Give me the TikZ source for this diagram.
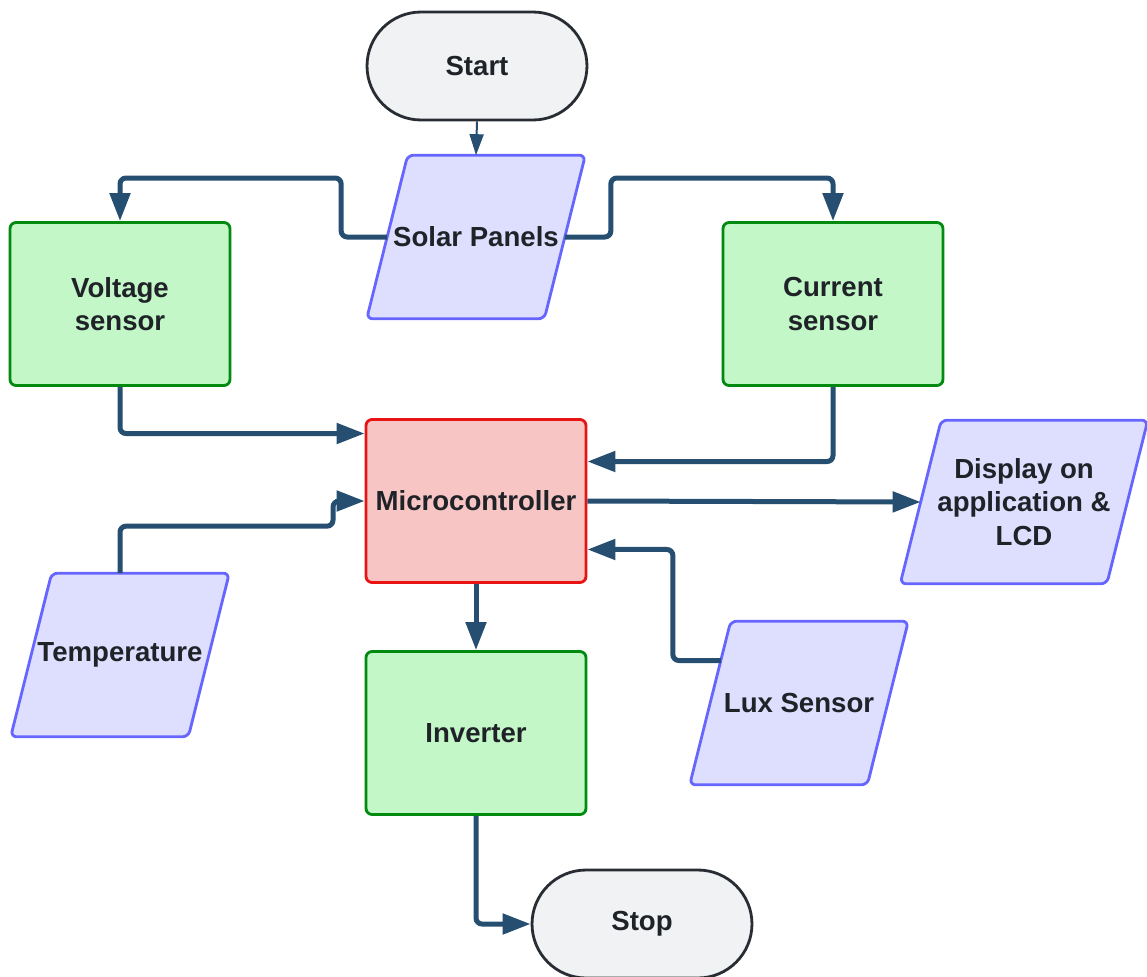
\documentclass[tikz,border=0pt]{standalone}
\usepackage{fontspec}
\setmainfont{Liberation Sans}
\usepackage{xcolor}
\usetikzlibrary{arrows.meta, calc, backgrounds}
\definecolor{flowLine}{HTML}{254E70}
\definecolor{textDark}{HTML}{1F2328}
\definecolor{termFill}{HTML}{F1F2F4}
\definecolor{termLine}{HTML}{282C33}
\definecolor{greenFill}{HTML}{C3F7C8}
\definecolor{greenLine}{HTML}{008A0E}
\definecolor{redFill}{HTML}{F7C5C4}
\definecolor{redLine}{HTML}{E81313}
\definecolor{blueFill}{HTML}{DEDEFF}
\definecolor{blueLine}{HTML}{6666FF}

\begin{document}
\begin{tikzpicture}[x=0.02cm, y=-0.02cm, >={Triangle[length=0.56cm, width=0.4cm]},
  every node/.style={font=\fontsize{15.7}{19}\selectfont\bfseries, text=textDark, align=center},
  terminal/.style={draw=termLine, fill=termFill, line width=1.6pt, rounded corners=1.08cm, minimum width=4.4cm, minimum height=2.16cm},
  procBox/.style={draw=greenLine, fill=greenFill, line width=1.6pt, rounded corners=0.12cm, minimum width=4.4cm, minimum height=3.26cm},
  ctrlBox/.style={procBox, draw=redLine, fill=redFill},
  ioBox/.style={minimum width=3.54cm, minimum height=3.26cm, inner sep=0pt},
  ioLine/.style={draw=blueLine, fill=blueFill, line width=1.6pt, rounded corners=0.12cm},
  flow/.style={->, draw=flowLine, line width=0.1cm, rounded corners=0.12cm},
  thinFlow/.style={-{Triangle[length=0.42cm, width=0.28cm]}, draw=flowLine, line width=0.04cm}]
  \useasboundingbox (0,0) rectangle (1147,977);
  \node[terminal] (startNode) at (477,66) {Start};
  \node[ioBox] (solarPanels) at (476,237) {Solar Panels};
  \node[procBox] (voltSensor) at (120,304) {Voltage\\sensor};
  \node[procBox] (currSensor) at (833,304) {Current\\sensor};
  \node[ctrlBox] (microCtrl) at (476,501) {Microcontroller};
  \node[ioBox, minimum width=4.12cm] (displayLcd) at (1024,502) {Display on\\application \&\\LCD};
  \node[ioBox] (tempSensor) at (120,655) {Temperature};
  \node[procBox] (inverter) at (476,733) {Inverter};
  \node[ioBox] (luxSensor) at (799,703) {Lux Sensor};
  \node[terminal] (stopNode) at (642,924) {Stop};
  \begin{scope}[on background layer]
    \foreach \io in {solarPanels, displayLcd, tempSensor, luxSensor}
      \draw[ioLine] ([xshift=0.41cm]\io.north west) -- ([xshift=0.41cm]\io.north east) -- ([xshift=-0.41cm]\io.south east) -- ([xshift=-0.41cm]\io.south west) -- cycle;
  \end{scope}
  \draw[thinFlow] (startNode.south) -- (solarPanels.north);
  \draw[flow] (solarPanels.west) -- ++(-46,0) -- ++(0,-59) -| (voltSensor.north);
  \draw[flow] (solarPanels.east) -- ++(46,0) -- ++(0,-59) -| (currSensor.north);
  \draw[flow] (voltSensor.south) |- ([yshift=1.35cm]microCtrl.west);
  \draw[flow] (currSensor.south) |- ([yshift=0.79cm]microCtrl.east);
  \draw[flow] (microCtrl.east) -- (displayLcd.west);
  \draw[flow] ($(luxSensor.west)+(10.7,-42.5)$) -- ++(-48,0) |- ([yshift=-0.97cm]microCtrl.east);
  \draw[flow] (tempSensor.north) -- ++(0,-47) -- ++(213,0) |- (microCtrl.west);
  \draw[flow] (microCtrl.south) -- (inverter.north);
  \draw[flow] (inverter.south) |- (stopNode.west);
\end{tikzpicture}
\end{document}
